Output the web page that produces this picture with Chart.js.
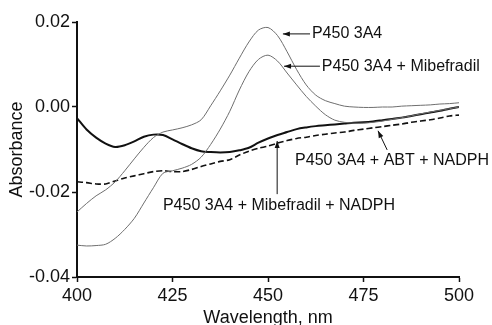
<!DOCTYPE html>
<html>
<head>
<meta charset="utf-8">
<script src="https://cdn.jsdelivr.net/npm/chart.js@4"></script>
<style>
  html, body { margin: 0; padding: 0; background: #fff; }
  canvas { display: block; }
</style>
</head>
<body>
<canvas id="chart" width="492" height="325"></canvas>
<script>
// wavelength grid, nm
const wavelengths = [400, 402.5, 405, 407.5, 410, 412.5, 415, 417.5, 420, 422.5,
  425, 427.5, 430, 432.5, 435, 437.5, 440, 442.5, 445, 447.5,
  450, 452.5, 455, 457.5, 460, 462.5, 465, 467.5, 470, 472.5,
  475, 477.5, 480, 482.5, 485, 487.5, 490, 492.5, 495, 497.5, 500];

const p450 = [-0.0247, -0.0227, -0.0209, -0.0195, -0.0176, -0.0150, -0.0122, -0.0095, -0.0072, -0.0059,
  -0.0054, -0.0049, -0.0042, -0.0030, 0.0003, 0.0038, 0.0075, 0.0115, 0.0153, 0.0181,
  0.0187, 0.0168, 0.0130, 0.0088, 0.0052, 0.0028, 0.0015, 0.0008, 0.0002, 0.0000,
  -0.0001, -0.0001, 0.0000, 0.0000, 0.0002, 0.0003, 0.0004, 0.0005, 0.0007, 0.0008, 0.0010];

const p450Mib = [-0.0325, -0.0327, -0.0326, -0.0323, -0.0309, -0.0288, -0.0262, -0.0226, -0.0190, -0.0156,
  -0.0150, -0.0144, -0.0135, -0.0118, -0.0088, -0.0052, -0.0010, 0.0040, 0.0083, 0.0112,
  0.0122, 0.0108, 0.0080, 0.0052, 0.0025, 0.0002, -0.0018, -0.0031, -0.0036, -0.0038,
  -0.0038, -0.0036, -0.0033, -0.0029, -0.0025, -0.0021, -0.0016, -0.0012, -0.0008, -0.0004, 0.0000];

const p450MibNadph = [-0.0026, -0.0053, -0.0072, -0.0086, -0.0094, -0.0090, -0.0081, -0.0070, -0.0065, -0.0066,
  -0.0076, -0.0087, -0.0097, -0.0104, -0.0106, -0.0107, -0.0106, -0.0102, -0.0096, -0.0084,
  -0.0074, -0.0066, -0.0059, -0.0052, -0.0048, -0.0045, -0.0043, -0.0041, -0.0039, -0.0037,
  -0.0036, -0.0034, -0.0031, -0.0028, -0.0025, -0.0021, -0.0017, -0.0013, -0.0009, -0.0004, 0.0000];

const p450AbtNadph = [-0.0176, -0.0178, -0.0181, -0.0181, -0.0174, -0.0167, -0.0162, -0.0157, -0.0152, -0.0150,
  -0.0152, -0.0152, -0.0147, -0.0140, -0.0134, -0.0128, -0.0124, -0.0113, -0.0104, -0.0097,
  -0.0092, -0.0085, -0.0079, -0.0074, -0.0071, -0.0067, -0.0064, -0.0061, -0.0059, -0.0055,
  -0.0052, -0.0049, -0.0046, -0.0043, -0.0040, -0.0036, -0.0033, -0.0030, -0.0026, -0.0021, -0.0019];

const xTicks = [400, 425, 450, 475, 500];
const yTicks = [-0.04, -0.02, 0.00, 0.02];

// labels with arrows, in data units: text start, arrow from -> to
const labels = [
  { text: 'P450 3A4', x: 461.5, y: 0.0172, from: [461.0, 0.0172], to: [453.9, 0.0172] },
  { text: 'P450 3A4 + Mibefradil', x: 464.1, y: 0.0094, from: [463.6, 0.0096], to: [454.2, 0.0096] },
  { text: 'P450 3A4 + ABT + NADPH', x: 457.1, y: -0.0125, from: [481.2, -0.0101], to: [478.8, -0.0056] },
  { text: 'P450 3A4 + Mibefradil + NADPH', x: 422.5, y: -0.0231, from: [452.4, -0.0205], to: [452.4, -0.0080] }
];

const FONT = '"Liberation Sans", Arial, sans-serif';

const toXY = ys => wavelengths.map((w, i) => ({ x: w, y: ys[i] }));

const labelPlugin = {
  id: 'arrowLabels',
  afterDatasetsDraw(chart) {
    const { ctx, scales: { x, y } } = chart;
    ctx.save();
    ctx.fillStyle = '#111';
    ctx.strokeStyle = '#111';
    ctx.lineWidth = 1;
    ctx.font = '16px ' + FONT;
    ctx.textBaseline = 'middle';
    ctx.textAlign = 'left';
    labels.forEach(l => {
      ctx.fillText(l.text, x.getPixelForValue(l.x), y.getPixelForValue(l.y));
      const x1 = x.getPixelForValue(l.from[0]), y1 = y.getPixelForValue(l.from[1]);
      const x2 = x.getPixelForValue(l.to[0]), y2 = y.getPixelForValue(l.to[1]);
      ctx.beginPath();
      ctx.moveTo(x1, y1);
      ctx.lineTo(x2, y2);
      ctx.stroke();
      const a = Math.atan2(y2 - y1, x2 - x1);
      ctx.beginPath();
      ctx.moveTo(x2, y2);
      ctx.lineTo(x2 - 7 * Math.cos(a) + 2.5 * Math.sin(a), y2 - 7 * Math.sin(a) - 2.5 * Math.cos(a));
      ctx.lineTo(x2 - 7 * Math.cos(a) - 2.5 * Math.sin(a), y2 - 7 * Math.sin(a) + 2.5 * Math.cos(a));
      ctx.closePath();
      ctx.fill();
    });
    ctx.restore();
  }
};

const ctx = document.getElementById('chart').getContext('2d');
new Chart(ctx, {
  type: 'line',
  data: {
    datasets: [
      { label: 'P450 3A4', data: toXY(p450), borderColor: '#6e6e6e', borderWidth: 1 },
      { label: 'P450 3A4 + Mibefradil', data: toXY(p450Mib), borderColor: '#6e6e6e', borderWidth: 1 },
      { label: 'P450 3A4 + ABT + NADPH', data: toXY(p450AbtNadph), borderColor: '#111', borderWidth: 1.6, borderDash: [6, 3] },
      { label: 'P450 3A4 + Mibefradil + NADPH', data: toXY(p450MibNadph), borderColor: '#111', borderWidth: 2 }
    ]
  },
  options: {
    responsive: false,
    animation: false,
    events: [],
    elements: { point: { radius: 0 }, line: { tension: 0.3, fill: false } },
    layout: { padding: { top: 22, right: 33, left: 0, bottom: 0 } },
    plugins: { legend: { display: false }, tooltip: { enabled: false } },
    scales: {
      x: {
        type: 'linear',
        min: 400, max: 500,
        afterFit: s => { s.height = 48; },
        afterBuildTicks: s => { s.ticks = xTicks.map(v => ({ value: v })); },
        grid: { drawOnChartArea: false, tickLength: 5, tickWidth: 1.5, color: '#111' },
        border: { color: '#111', width: 2 },
        ticks: { color: '#111', font: { family: FONT, size: 18 }, padding: 3, maxRotation: 0 },
        title: { display: true, text: 'Wavelength, nm', color: '#111', font: { family: FONT, size: 18, lineHeight: 0.8 }, padding: 0 }
      },
      y: {
        min: -0.04, max: 0.02,
        afterFit: s => { s.width = 77; },
        afterBuildTicks: s => { s.ticks = yTicks.map(v => ({ value: v })); },
        grid: { drawOnChartArea: false, tickLength: 5, tickWidth: 1.5, color: '#111' },
        border: { color: '#111', width: 2 },
        ticks: { color: '#111', font: { family: FONT, size: 18 }, padding: 2, callback: v => v.toFixed(2) },
        title: { display: true, text: 'Absorbance', color: '#111', font: { family: FONT, size: 18 }, padding: { top: 6, bottom: 0 } }
      }
    }
  },
  plugins: [labelPlugin]
});
</script>
</body>
</html>
